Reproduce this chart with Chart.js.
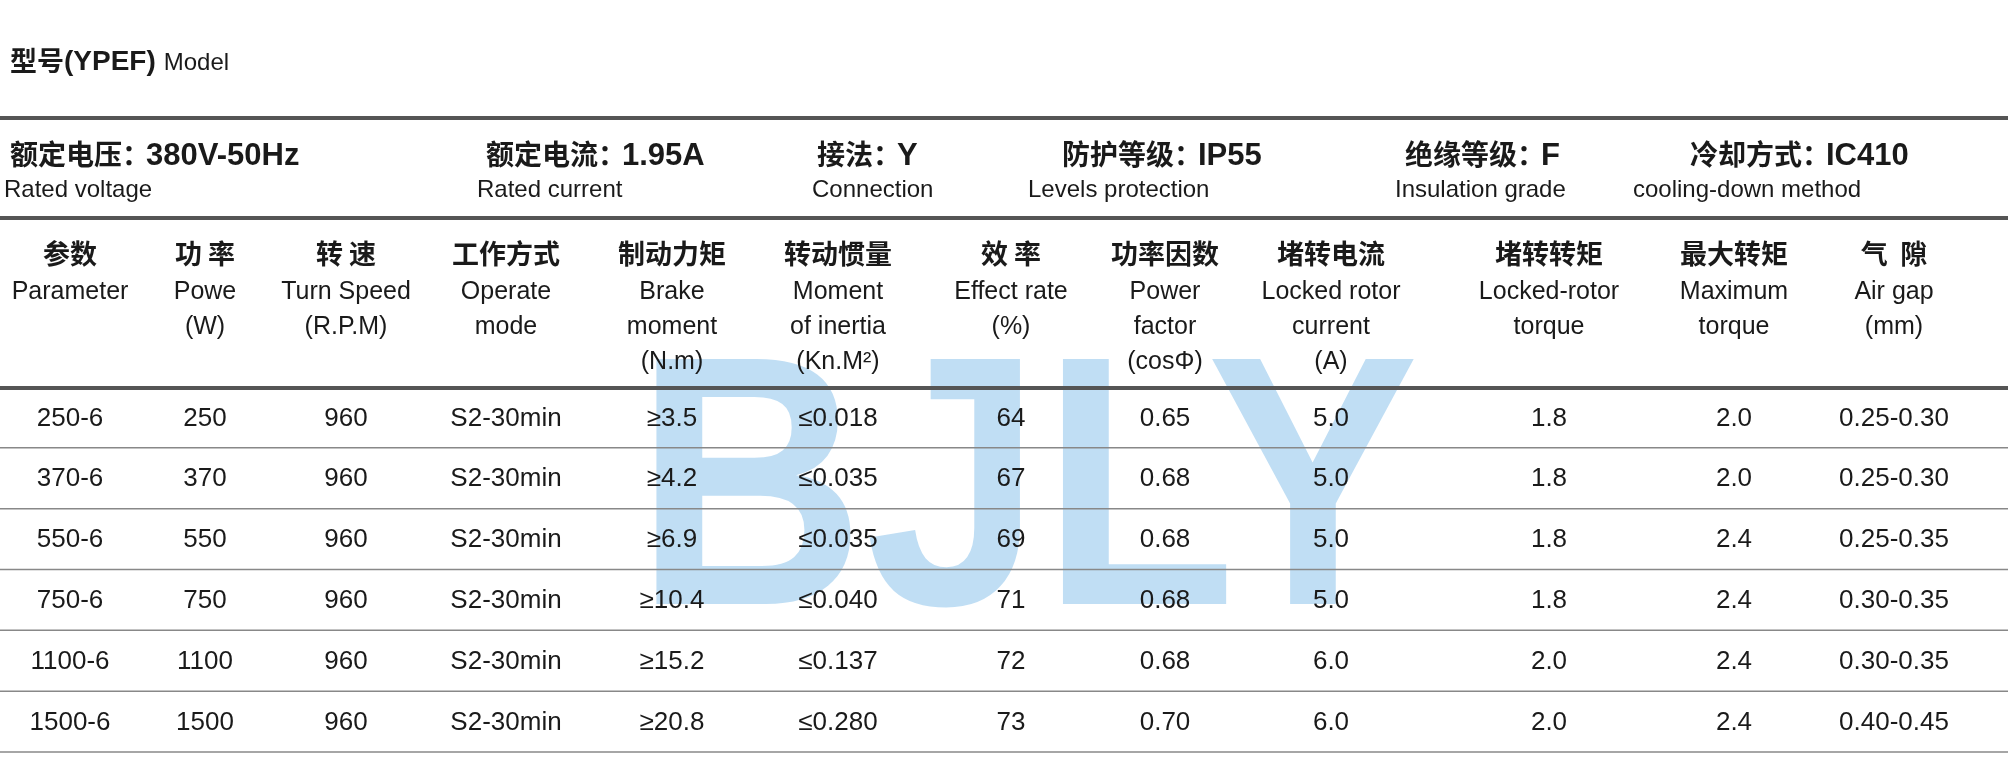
<!DOCTYPE html>
<html><head><meta charset="utf-8">
<script src="https://cdn.jsdelivr.net/npm/chart.js@4"></script>
<style>html,body{margin:0;background:#fff}canvas{display:block}</style>
</head><body>
<canvas id="c" width="2008" height="757"></canvas>
<script>
// данные таблицы
const models = ['250-6', '370-6', '550-6', '750-6', '1100-6', '1500-6'];
const power = ['250', '370', '550', '750', '1100', '1500'];
const speed = ['960', '960', '960', '960', '960', '960'];
const mode = ['S2-30min', 'S2-30min', 'S2-30min', 'S2-30min', 'S2-30min', 'S2-30min'];
const brake = ['≥3.5', '≥4.2', '≥6.9', '≥10.4', '≥15.2', '≥20.8'];
const inertia = ['≤0.018', '≤0.035', '≤0.035', '≤0.040', '≤0.137', '≤0.280'];
const efficiency = [64, 67, 69, 71, 72, 73];
const powerFactor = ['0.65', '0.68', '0.68', '0.68', '0.68', '0.70'];
const lockedCurrent = ['5.0', '5.0', '5.0', '5.0', '6.0', '6.0'];
const lockedTorque = ['1.8', '1.8', '1.8', '1.8', '2.0', '2.0'];
const maxTorque = ['2.0', '2.0', '2.4', '2.4', '2.4', '2.4'];
const airGap = ['0.25-0.30', '0.25-0.30', '0.25-0.35', '0.30-0.35', '0.30-0.35', '0.40-0.45'];

const headCn = ['参数', '功 率', '转 速', '工作方式', '制动力矩', '转动惯量', '效 率', '功率因数', '堵转电流', '堵转转矩', '最大转矩', '气  隙'];
const headEn = [
  ['Parameter'], ['Powe', '(W)'], ['Turn Speed', '(R.P.M)'], ['Operate', 'mode'],
  ['Brake', 'moment', '(N.m)'], ['Moment', 'of inertia', '(Kn.M²)'], ['Effect rate', '(%)'],
  ['Power', 'factor', '(cosΦ)'], ['Locked rotor', 'current', '(A)'], ['Locked-rotor', 'torque'],
  ['Maximum', 'torque'], ['Air gap', '(mm)']
];
const specLabel = ['额定电压：', '额定电流：', '接法：', '防护等级：', '绝缘等级：', '冷却方式：'];
const specValue = ['380V-50Hz', '1.95A', 'Y', 'IP55', 'F', 'IC410'];
const specEn = ['Rated voltage', 'Rated current', 'Connection', 'Levels protection', 'Insulation grade', 'cooling-down method'];

const columns = [models, power, speed, mode, brake, inertia, efficiency, powerFactor, lockedCurrent, lockedTorque, maxTorque, airGap];

// раскладка (пиксели)
const colX = [70, 205, 346, 506, 672, 838, 1011, 1165, 1331, 1549, 1734, 1894];
const specX = [10, 486, 817, 1062, 1405, 1690];
const specEnX = [4, 477, 812, 1028, 1395, 1633];
const FONT = '"Liberation Sans", Arial, sans-serif';
const CJK = '"Noto Sans CJK SC", sans-serif';

const tablePlugin = {
  id: 'table',
  beforeDatasetsDraw(chart) {
    const ctx = chart.ctx;
    ctx.save();
    // водяной знак
    ctx.fillStyle = 'rgba(150,200,236,0.6)';
    ctx.textAlign = 'center';
    ctx.textBaseline = 'alphabetic';
    ctx.translate(1027, 604);
    ctx.scale(1, 1.12);
    ctx.font = 'bold 318px ' + FONT;
    ctx.fillText('BJLY', 0, 0);
    ctx.restore();
  },
  afterDatasetsDraw(chart) {
    const ctx = chart.ctx;
    const x = chart.scales.x, y = chart.scales.y;
    ctx.save();
    ctx.fillStyle = '#1a1a1a';
    ctx.textBaseline = 'middle';
    // заголовок
    ctx.textAlign = 'left';
    ctx.font = 'bold 27px ' + CJK;
    ctx.fillText('型号', 10, 61);
    let w = 10 + ctx.measureText('型号').width;
    ctx.font = 'bold 28px ' + FONT;
    ctx.fillText('(YPEF)', w, 62);
    w += ctx.measureText('(YPEF)').width + 8;
    ctx.font = '24px ' + FONT;
    ctx.fillText('Model', w, 63);
    // характеристики
    specLabel.forEach((s, i) => {
      ctx.font = 'bold 28px ' + CJK;
      ctx.fillText(s, specX[i], 154);
      const lw = ctx.measureText(s).width;
      ctx.font = 'bold 31px ' + FONT;
      ctx.fillText(specValue[i], specX[i] + lw - 4, 156);
      ctx.font = '24px ' + FONT;
      ctx.fillText(specEn[i], specEnX[i], 190);
    });
    // линии
    ctx.strokeStyle = '#555';
    ctx.lineWidth = 4;
    [118, 218, 388].forEach(v => {
      ctx.beginPath(); ctx.moveTo(0, v); ctx.lineTo(2008, v); ctx.stroke();
    });
    ctx.lineWidth = 1.5;
    ctx.strokeStyle = '#888';
    const step = (y.bottom - y.top) / models.length;
    for (let i = 1; i <= models.length; i++) {
      const v = y.top + step * i - 1;
      ctx.beginPath(); ctx.moveTo(0, v); ctx.lineTo(2008, v); ctx.stroke();
    }
    // шапка таблицы
    ctx.textAlign = 'center';
    headCn.forEach((h, i) => {
      ctx.font = 'bold 27px ' + CJK;
      ctx.fillText(h, x.getPixelForValue(colX[i]), 254);
      ctx.font = '25px ' + FONT;
      headEn[i].forEach((t, k) => ctx.fillText(t, x.getPixelForValue(colX[i]), 292 + k * 35));
    });
    // ячейки
    ctx.font = '26px ' + FONT;
    columns.forEach((col, i) => {
      col.forEach((v, r) => ctx.fillText(String(v), x.getPixelForValue(colX[i]), y.getPixelForValue(r)));
    });
    ctx.restore();
  }
};

new Chart(document.getElementById('c'), {
  type: 'scatter',
  data: { labels: models, datasets: [{ data: efficiency.map((v, r) => ({ x: colX[6], y: r })), pointRadius: 0 }] },
  options: {
    responsive: false,
    animation: false,
    layout: { padding: { top: 388, bottom: 4, left: 0, right: 0 } },
    plugins: { legend: { display: false }, tooltip: { enabled: false } },
    scales: {
      x: { type: 'linear', min: 0, max: 2008, display: false },
      y: { type: 'category', labels: models, offset: true, display: false }
    }
  },
  plugins: [tablePlugin]
});
</script>
</body></html>
